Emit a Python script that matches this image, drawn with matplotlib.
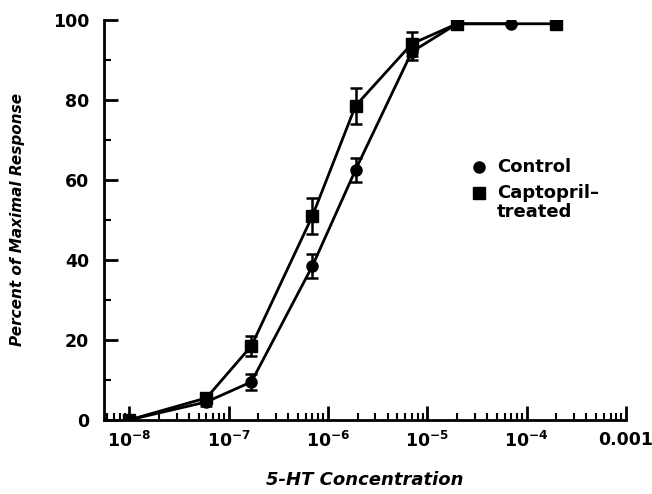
import matplotlib
matplotlib.use("Agg")
import matplotlib.pyplot as plt
from matplotlib.ticker import FixedLocator, LogLocator, NullFormatter

# data
control_conc = [1e-8, 6e-8, 1.7e-7, 7e-7, 1.9e-6, 7e-6, 2e-5, 7e-5]
control_resp = [0, 4.5, 9.5, 38.5, 62.5, 92, 99, 99]
control_err = [0, 1, 2, 3, 3, 2, 0, 0]

capto_conc = [1e-8, 6e-8, 1.7e-7, 7e-7, 1.9e-6, 7e-6, 2e-5, 2e-4]
capto_resp = [0, 5.5, 18.5, 51, 78.5, 94, 99, 99]
capto_err = [0, 1, 2.5, 4.5, 4.5, 3, 0, 0]

xtick_vals = [1e-8, 1e-7, 1e-6, 1e-5, 1e-4, 1e-3]
xtick_labels = [r"$\mathbf{10^{-8}}$", r"$\mathbf{10^{-7}}$", r"$\mathbf{10^{-6}}$",
                r"$\mathbf{10^{-5}}$", r"$\mathbf{10^{-4}}$", "0.001"]
ytick_vals = [0, 20, 40, 60, 80, 100]

plt.rcParams["font.family"] = ["DejaVu Sans"]
plt.rcParams["mathtext.fontset"] = "dejavusans"

fig = plt.figure(figsize=(6.52, 4.94), dpi=100)
ax = fig.add_axes([0.160, 0.150, 0.800, 0.810])

ax.errorbar(control_conc, control_resp, yerr=control_err, color="black", lw=2,
            marker="o", ms=8, capsize=4, capthick=1.8, elinewidth=1.8, zorder=3)
ax.errorbar(capto_conc, capto_resp, yerr=capto_err, color="black", lw=2,
            marker="s", ms=8, capsize=4, capthick=1.8, elinewidth=1.8, zorder=4)

ax.set_xscale("log")
ax.set_xlim(10 ** -8.25, 1e-3)
ax.set_ylim(0, 100)

ax.xaxis.set_major_locator(FixedLocator(xtick_vals))
ax.set_xticklabels(xtick_labels)
ax.xaxis.set_minor_locator(LogLocator(base=10, subs=range(2, 10), numticks=20))
ax.xaxis.set_minor_formatter(NullFormatter())
ax.set_yticks(ytick_vals)
ax.set_yticks(range(10, 100, 20), minor=True)

for side in ["top", "right"]:
    ax.spines[side].set_visible(False)
for side in ["left", "bottom"]:
    ax.spines[side].set_linewidth(2)

ax.tick_params(which="major", direction="in", length=10, width=2,
               labelsize=12.5, pad=8)
ax.tick_params(axis="y", which="major", pad=11)
ax.tick_params(which="minor", direction="in", length=5, width=1.5)
for lab in ax.get_xticklabels() + ax.get_yticklabels():
    lab.set_fontweight("bold")

ax.set_xlabel("5-HT Concentration", fontsize=13, fontweight="bold",
              fontstyle="italic", labelpad=14)
ax.set_ylabel("Percent of Maximal Response", fontsize=11, fontweight="bold",
              fontstyle="italic", labelpad=20)

# legend drawn as plain markers and text
ax.plot([10 ** -4.48], [63.2], "o", color="black", ms=8)
ax.plot([10 ** -4.48], [56.8], "s", color="black", ms=8)
ax.text(10 ** -4.3, 63.2, "Control", fontsize=13, fontweight="bold", va="center")
ax.text(10 ** -4.3, 54.3, "Captopril\u2013\ntreated", fontsize=13,
        fontweight="bold", va="center", linespacing=1.05)

fig.savefig("out.png", dpi=100)
